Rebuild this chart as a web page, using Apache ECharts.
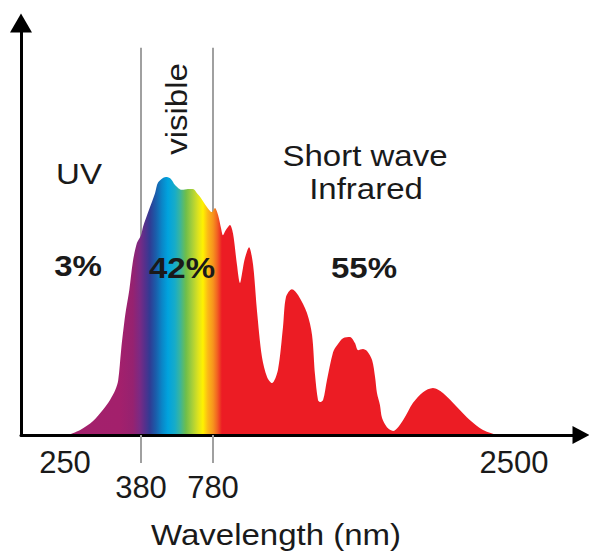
<!DOCTYPE html>
<html>
<head>
<meta charset="utf-8">
<script src="https://cdn.jsdelivr.net/npm/echarts@6/dist/echarts.min.js"></script>
<style>
  html, body { margin: 0; padding: 0; background: #ffffff; }
  #chart { width: 589px; height: 551px; }
</style>
</head>
<body>
<div id="chart"></div>
<script>
// ---------------- data ----------------
// Solar spectrum, wavelength (nm) and relative irradiance (arbitrary units)
const wavelengths = [255, 276, 298, 315, 327, 336, 341, 346, 353, 360,
  366, 373, 380, 391, 424, 458, 474, 502, 524, 547,
  569, 608, 641, 669, 691, 708, 747, 774, 791, 809,
  826, 837, 854, 877, 894, 917, 934, 951, 963, 986,
  1009, 1031, 1060, 1089, 1117, 1151, 1180, 1197, 1231, 1266,
  1317, 1346, 1363, 1380, 1391, 1409, 1431, 1466, 1489, 1523,
  1563, 1591, 1609, 1637, 1660, 1689, 1706, 1717, 1734, 1746,
  1774, 1809, 1866, 1923, 1980, 2037, 2094, 2174, 2249, 2323, 2403];
const irradiance = [0, 1.2, 3.4, 6.1, 8.5, 10.9, 13.3, 20.6, 29.1, 35.2,
  42.0, 46.6, 48.5, 50.5, 54.6, 58.7, 61.2, 62.4, 62.6, 62.1,
  60.7, 59.5, 59.7, 59.7, 58.7, 57.8, 55.3, 54.1, 55.1, 53.4,
  50.2, 48.5, 49.8, 51.0, 49.0, 41.3, 36.9, 40.5, 43.0, 45.6,
  41.3, 30.3, 18.9, 14.1, 12.6, 15.8, 26.2, 33.5, 35.4, 34.0,
  29.6, 24.3, 14.6, 8.5, 8.0, 8.5, 13.3, 20.1, 21.8, 23.5,
  23.8, 22.3, 20.6, 20.9, 20.4, 18.2, 14.1, 10.2, 7.3, 4.1,
  1.9, 1.0, 3.6, 7.8, 10.4, 11.4, 10.2, 6.8, 3.6, 1.2, 0];
const bandEdges = [380, 780];          // UV | visible | IR boundaries (nm)
const bandEdgeHeight = 94;             // height of the boundary lines (y units)
const tickLabelsUpper = [250, 2500];
const tickLabelsLower = [380, 780];
const regionNames = ['UV', 'visible', 'Short wave', 'Infrared'];
const regionShares = ['3%', '42%', '55%'];
const xAxisTitle = 'Wavelength (nm)';

// colour of the spectrum at given wavelengths
const colorNm = [255, 344, 366, 378, 402, 430, 463, 497, 530, 569, 597, 630, 664, 697, 724, 752, 780, 803, 831, 2403];
const colorHex = ['#a3216c', '#a3206c', '#962270', '#7a2a84', '#55308c', '#2f3c94', '#1a5eab', '#0a86c8', '#00a3de',
  '#17acc8', '#3ab59c', '#6fbe4a', '#a6cf3a', '#dce21f', '#fff200', '#fbb817', '#f7941d', '#f26522', '#ec1c24', '#ec1c24'];

// ---------------- non-linear axis warp (the reference axis is stretched in the UV) ----------------
const warpNm = [250, 380, 780, 2500];
const warpPos = [44, 120, 192, 493];
function toPos(nm) {
  let i = 0;
  if (nm >= warpNm[warpNm.length - 1]) i = warpNm.length - 2;
  else { while (i < warpNm.length - 2 && nm > warpNm[i + 1]) i++; }
  const t = (nm - warpNm[i]) / (warpNm[i + 1] - warpNm[i]);
  return warpPos[i] + t * (warpPos[i + 1] - warpPos[i]);
}

const allTickNm = tickLabelsUpper.concat(tickLabelsLower);
function labelFor(pos) {
  for (const nm of allTickNm) {
    if (Math.abs(toPos(nm) - pos) < 0.01) {
      return tickLabelsLower.indexOf(nm) >= 0 ? '\n' + nm : String(nm);
    }
  }
  return '';
}

const spectrum = wavelengths.map((w, i) => [toPos(w), irradiance[i]]);
const p0 = toPos(wavelengths[0]);
const p1 = toPos(wavelengths[wavelengths.length - 1]);
const stops = colorNm.map((w, i) => ({
  offset: Math.min(1, Math.max(0, (toPos(w) - p0) / (p1 - p0))),
  color: colorHex[i]
}));

const FONT = '"Liberation Sans", Arial, "Helvetica Neue", sans-serif';
const TXT = '#1a1a1a';

const edgeSeries = bandEdges.map(nm => ({
  type: 'line',
  data: [[toPos(nm), 0], [toPos(nm), bandEdgeHeight]],
  symbol: 'none',
  lineStyle: { color: '#a0a0a0', width: 2 },
  z: 1,
  silent: true
}));

function txt(text, x, y, opts) {
  return Object.assign({
    type: 'text',
    x: x, y: y,
    z: 100,
    scaleX: 1.1,
    silent: true,
    style: Object.assign({
      text: text,
      fill: TXT,
      font: '30px ' + FONT,
      align: 'center',
      verticalAlign: 'middle'
    }, (opts && opts.style) || {})
  }, (opts && opts.el) || {});
}

const chart = echarts.init(document.getElementById('chart'), null, { renderer: 'svg' });
chart.setOption({
  animation: false,
  backgroundColor: '#ffffff',
  grid: { left: 21, right: 8, top: 23, bottom: 116, containLabel: false },
  xAxis: {
    type: 'value',
    min: 0, max: 560,
    z: 10,
    axisLine: {
      onZero: true,
      lineStyle: { color: '#000', width: 3 },
      symbol: ['none', 'triangle'],
      symbolSize: [18, 17]
    },
    axisTick: {
      show: true,
      customValues: bandEdges.map(toPos),
      length: 28,
      lineStyle: { color: '#a0a0a0', width: 2 }
    },
    axisLabel: {
      show: true,
      customValues: allTickNm.map(toPos),
      formatter: labelFor,
      fontSize: 31,
      fontFamily: FONT,
      color: TXT,
      lineHeight: 25,
      margin: 15
    },
    splitLine: { show: false }
  },
  yAxis: {
    type: 'value',
    min: 0, max: 100,
    z: 10,
    axisLine: {
      show: true,
      lineStyle: { color: '#000', width: 3 },
      symbol: ['none', 'triangle'],
      symbolSize: [22, 19]
    },
    axisTick: { show: false },
    axisLabel: { show: false },
    splitLine: { show: false }
  },
  series: edgeSeries.concat([{
    type: 'line',
    data: spectrum,
    symbol: 'none',
    smooth: 0.3,
    lineStyle: { width: 0 },
    areaStyle: {
      opacity: 1,
      color: new echarts.graphic.LinearGradient(0, 0, 1, 0, stops)
    },
    z: 3,
    silent: true
  }]),
  graphic: {
    elements: [
      txt(regionNames[0], 79, 174),
      txt(regionNames[1], 177, 109, { el: { rotation: Math.PI / 2 } }),
      txt(regionNames[2], 365, 156),
      txt(regionNames[3], 366, 189),
      txt(regionShares[0], 78, 266, { style: { font: 'bold 30px ' + FONT } }),
      txt(regionShares[1], 182, 268, { style: { font: 'bold 30px ' + FONT } }),
      txt(regionShares[2], 364, 268, { style: { font: 'bold 30px ' + FONT } }),
      txt(xAxisTitle, 276, 535)
    ]
  }
});
</script>
</body>
</html>
